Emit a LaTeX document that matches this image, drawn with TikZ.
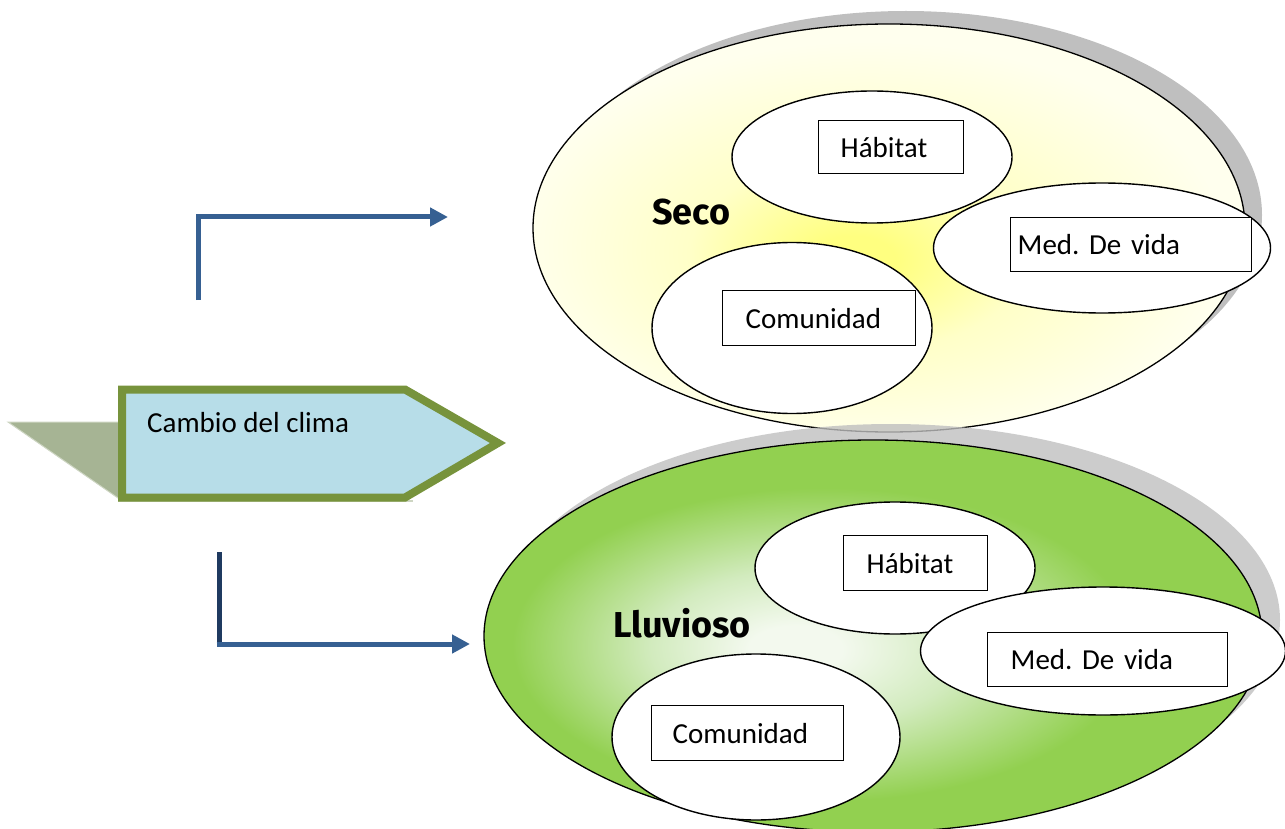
\documentclass[tikz,border=0pt]{standalone}
\usepackage{fontspec}
\setmainfont{Carlito}
\newfontfamily\titlefont{Fira Sans}
\usetikzlibrary{shapes.geometric,arrows.meta}
\frenchspacing
\definecolor{secoIn}{HTML}{FFFF80}
\definecolor{secoMid}{HTML}{FFFFC8}
\definecolor{secoOut}{HTML}{FFFFEE}
\definecolor{greenIn}{HTML}{F3F9EE}
\definecolor{greenMid}{HTML}{D2EBBE}
\definecolor{greenOut}{HTML}{92D050}
\definecolor{shadowgray}{HTML}{BFBFBF}
\definecolor{pentborder}{HTML}{77933C}
\definecolor{pentfill}{HTML}{B7DDE8}
\definecolor{shadowgreen}{HTML}{A6B494}
\definecolor{shadowgreenlight}{HTML}{CDD5C2}
\definecolor{arrowblue}{HTML}{366092}
\definecolor{arrowdark}{HTML}{1F3A60}
\pgfdeclareradialshading{secosh}{\pgfpoint{-2.7bp}{-4.2bp}}{color(0bp)=(secoIn); color(3bp)=(secoIn); color(12bp)=(secoMid); color(25bp)=(secoOut); color(50bp)=(secoOut)}
\pgfdeclareradialshading{lluvsh}{\pgfpoint{-5.3bp}{-1.8bp}}{color(0bp)=(greenIn); color(3bp)=(greenIn); color(10bp)=(greenMid); color(20bp)=(greenOut); color(50bp)=(greenOut)}
\begin{document}
\begin{tikzpicture}[x=1pt,y=-1pt,
  shadowell/.style={ellipse, fill=shadowgray, inner sep=0pt},
  bigell/.style={ellipse, draw=black, line width=1.3pt, inner sep=0pt},
  smallell/.style={ellipse, draw=black, line width=1.4pt, fill=white, inner sep=0pt},
  txtbox/.style={rectangle, draw=black, line width=1.4pt, fill=white, inner sep=0pt,
    align=left, font=\fontsize{29}{33}\selectfont},
  titletxt/.style={font=\titlefont\bfseries\fontsize{36}{40}\selectfont, inner sep=0pt},
  arrowline/.style={line width=5pt, draw=arrowblue},
  arrowtip/.style={-{Triangle[length=18pt,width=18pt]}},
]
\useasboundingbox (0,0) rectangle (1285,829);

% ---------- Seco ----------
\node[shadowell, minimum width=712, minimum height=408] (secoshadow) at (906,215) {};
\node[bigell, shading=secosh, minimum width=712, minimum height=408] (seco) at (889,228) {};
\node[smallell, minimum width=280, minimum height=132] (seh) at (872,157) {};
\node[smallell, minimum width=337, minimum height=130] (sem) at (1102,248) {};
\node[smallell, minimum width=280, minimum height=171] (sec) at (792,328) {};
\node[txtbox, text width=145, minimum height=53, anchor=north west] (sehb) at (818,120) {\hspace*{22pt}Hábitat};
\node[txtbox, text width=241, minimum height=54, anchor=north west] (semb) at (1010,217) {\hspace*{7pt}Med. De vida};
\node[txtbox, text width=193, minimum height=55, anchor=north west] (secb) at (722,290) {\hspace*{23pt}Comunidad};
\node[titletxt, anchor=base west] (secot) at (652,225) {Seco};

% ---------- Lluvioso ----------
\node[shadowell, opacity=0.8, minimum width=778, minimum height=392] (lluvshadow) at (891,620) {};
\node[bigell, shading=lluvsh, minimum width=778, minimum height=392] (lluv) at (873,636) {};
\node[smallell, minimum width=280, minimum height=132] (llh) at (895,568) {};
\node[smallell, minimum width=365, minimum height=128] (llm) at (1103,651) {};
\node[smallell, minimum width=288, minimum height=166] (llc) at (756,737) {};
\node[txtbox, text width=144, minimum height=55, anchor=north west] (llhb) at (843,535) {\hspace*{23pt}Hábitat};
\node[txtbox, text width=240, minimum height=54, anchor=north west] (llmb) at (987,632) {\hspace*{23pt}Med. De vida};
\node[txtbox, text width=192, minimum height=55, anchor=north west] (llcb) at (651,705) {\hspace*{21pt}Comunidad};
\node[titletxt, anchor=base west] (lluvt) at (613,637) {Lluvioso};

% ---------- Cambio del clima ----------
\fill[shadowgreen, draw=shadowgreenlight, line width=1pt] (8,422) -- (125,422) -- (125,500) -- (118,498) -- cycle;
\draw[shadowgreenlight, line width=2pt] (118,501) -- (413,501);
\draw[pentborder, fill=pentfill, line width=8pt, line join=miter]
  (122,389.5) -- (405,389.5) -- (498,443) -- (405,497.5) -- (122,497.5) -- cycle;
\node[anchor=base west, inner sep=0pt, font=\fontsize{29}{33}\selectfont] (cambio) at (147,432) {Cambio del clima};

% ---------- Arrows ----------
\coordinate (ua) at (198,300);
\coordinate (ub) at (448,217);
\draw[arrowline, arrowtip] (ua) |- (ub);
\coordinate (la) at (219,552);
\coordinate (lb) at (219,644);
\coordinate (lc) at (470,644);
\draw[line width=5pt, arrowdark] (la) -- ([yshift=-2.5pt]lb);
\draw[arrowline, arrowtip] ([xshift=-2.5pt]lb) -- (lc);
\end{tikzpicture}
\end{document}
